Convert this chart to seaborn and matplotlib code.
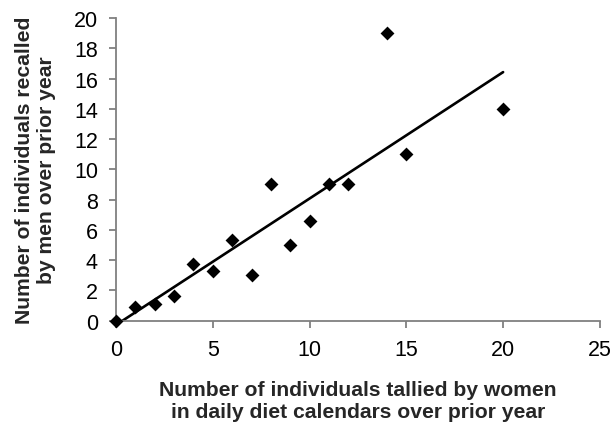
import matplotlib
matplotlib.use("Agg")
import matplotlib.pyplot as plt
import pandas as pd
import seaborn as sns

# counts per species: diet calendars (women) vs recall (men)
women_tally = [0, 1, 2, 3, 4, 5, 6, 7, 8, 9, 10, 11, 12, 14, 15, 20]
men_recall = [0, 0.9, 1.1, 1.6, 3.75, 3.3, 5.3, 3.0, 9.0, 5.0, 6.6, 9.0, 9.0, 19.0, 11.0, 14.0]

x_ticks = [0, 5, 10, 15, 20, 25]
y_ticks = [0, 2, 4, 6, 8, 10, 12, 14, 16, 18, 20]

df = pd.DataFrame({'women': women_tally, 'men': men_recall})

sns.set_style("white")
plt.rcParams['font.family'] = ['Liberation Sans', 'DejaVu Sans']

fig = plt.figure(figsize=(6.14, 4.27), dpi=100)
ax = fig.add_axes([0.189, 0.247, 0.788, 0.708])

sns.regplot(data=df, x='women', y='men', ax=ax, ci=None, marker='D',
            scatter_kws={'s': 50, 'color': 'black', 'alpha': 1, 'linewidths': 0,
                         'zorder': 3, 'clip_on': False},
            line_kws={'color': 'black', 'lw': 1.9})

ax.set_xlim(0, 25)
ax.set_ylim(0, 20)
ax.set_xticks(x_ticks)
ax.set_yticks(y_ticks)

for side in ['top', 'right']:
    ax.spines[side].set_visible(False)
for side in ['left', 'bottom']:
    ax.spines[side].set_color('#808080')
    ax.spines[side].set_linewidth(1.3)

ax.tick_params(axis='both', which='major', direction='out', length=5, width=1.3,
               color='#808080', labelsize=15.5, labelcolor='black', pad=8, left=True, bottom=True)

ax.set_xlabel("Number of individuals tallied by women\nin daily diet calendars over prior year",
              fontsize=15.2, fontweight='bold', labelpad=15)
ax.set_ylabel("Number of individuals recalled\nby men over prior year",
              fontsize=15.2, fontweight='bold', labelpad=13)

plt.savefig('out.png', dpi=100)
